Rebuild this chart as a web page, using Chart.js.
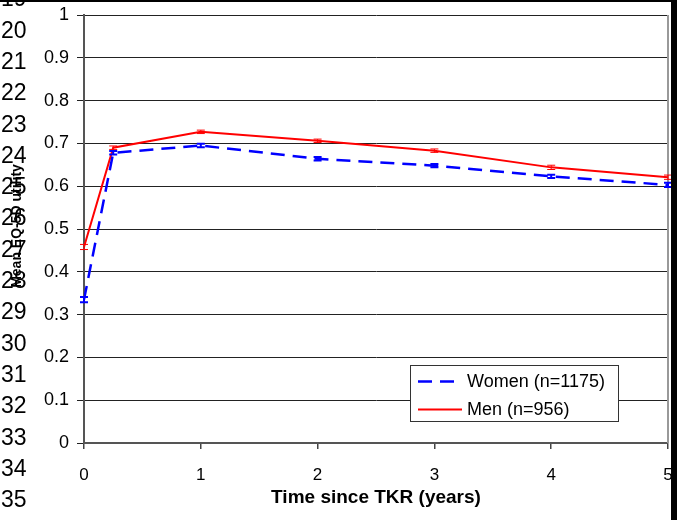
<!DOCTYPE html>
<html>
<head>
<meta charset="utf-8">
<script src="https://cdn.jsdelivr.net/npm/chart.js@4.4.1/dist/chart.umd.min.js"></script>
<style>
  html, body { margin: 0; padding: 0; background: #fff; }
  #wrap { width: 677px; height: 520px; }
</style>
</head>
<body>
<div id="wrap"><canvas id="qolChart" width="677" height="520"></canvas></div>
<script>
// ── DATA ─────────────────────────────────────────
const years      = [0, 0.25, 1, 2, 3, 4, 5];
const womenMean  = [0.335, 0.678, 0.695, 0.664, 0.648, 0.623, 0.603];
const womenErr   = [0.006, 0.004, 0.004, 0.004, 0.004, 0.004, 0.005];
const menMean    = [0.458, 0.690, 0.727, 0.706, 0.683, 0.644, 0.621];
const menErr     = [0.006, 0.004, 0.004, 0.004, 0.004, 0.005, 0.005];
const womenLabel = 'Women (n=1175)';
const menLabel   = 'Men (n=956)';
const yTitle     = 'Mean EQ-5D utility';
const xTitle     = 'Time since TKR (years)';
const lineNums   = [19, 20, 21, 22, 23, 24, 25, 26, 27, 28, 29, 30, 31, 32, 33, 34, 35, 36];

const FONT = "'Liberation Sans', Arial, sans-serif";

function toPoints(xs, ys) {
  return xs.map((x, i) => ({ x: x, y: ys[i] }));
}

// ── ERROR BARS ───────────────────────────────────
const errorBars = {
  id: 'errorBars',
  afterDatasetsDraw(chart) {
    const { ctx, scales: { x, y } } = chart;
    chart.data.datasets.forEach(ds => {
      ctx.save();
      ctx.strokeStyle = ds.borderColor;
      ctx.lineWidth = ds.errWidth;
      ds.data.forEach((p, i) => {
        const px = x.getPixelForValue(p.x);
        const yLo = y.getPixelForValue(p.y - ds.err[i]);
        const yHi = y.getPixelForValue(p.y + ds.err[i]);
        ctx.beginPath();
        ctx.moveTo(px, yLo); ctx.lineTo(px, yHi);
        ctx.moveTo(px - 4, yLo); ctx.lineTo(px + 4, yLo);
        ctx.moveTo(px - 4, yHi); ctx.lineTo(px + 4, yHi);
        ctx.stroke();
      });
      ctx.restore();
    });
  }
};

// ── LEGEND BOX, PAGE DECOR ───────────────────────
const decor = {
  id: 'decor',
  afterDraw(chart) {
    const ctx = chart.ctx;
    ctx.save();

    // legend inside plot
    const lx = 410.5, ly = 365.5, lw = 208, lh = 56;
    ctx.fillStyle = '#fff';
    ctx.fillRect(lx, ly, lw, lh);
    ctx.strokeStyle = '#333';
    ctx.lineWidth = 1;
    ctx.strokeRect(lx, ly, lw, lh);

    chart.data.datasets.forEach((ds, i) => {
      const yy = ly + 16 + i * 28;
      ctx.beginPath();
      ctx.strokeStyle = ds.borderColor;
      ctx.lineWidth = ds.borderWidth;
      ctx.setLineDash(ds.borderDash || []);
      ctx.moveTo(418, yy); ctx.lineTo(462, yy);
      ctx.stroke();
      ctx.setLineDash([]);
      ctx.fillStyle = '#000';
      ctx.font = '18px ' + FONT;
      ctx.textBaseline = 'middle';
      ctx.textAlign = 'left';
      ctx.fillText(ds.label, 467, yy + 1);
    });

    // manuscript line numbers
    ctx.fillStyle = '#000';
    ctx.font = '23px ' + FONT;
    ctx.textAlign = 'left';
    ctx.textBaseline = 'middle';
    lineNums.forEach((n, i) => ctx.fillText(String(n), 1, 0 + i * 31.3));

    // rotated y title
    ctx.save();
    ctx.translate(17, 226);
    ctx.rotate(-Math.PI / 2);
    ctx.font = 'bold 14px ' + FONT;
    ctx.textAlign = 'center';
    ctx.textBaseline = 'middle';
    ctx.fillText(yTitle, 0, 0);
    ctx.restore();

    // page frame
    ctx.fillStyle = '#000';
    ctx.fillRect(0, 0, 677, 2);
    ctx.fillRect(671, 0, 6, 520);
    ctx.restore();
  }
};

new Chart(document.getElementById('qolChart'), {
  type: 'line',
  data: {
    datasets: [
      {
        label: womenLabel,
        data: toPoints(years, womenMean),
        err: womenErr,
        errWidth: 2,
        borderColor: '#0000FF',
        borderWidth: 2.5,
        borderDash: [14, 8],
        pointRadius: 0,
        tension: 0,
      },
      {
        label: menLabel,
        data: toPoints(years, menMean),
        err: menErr,
        errWidth: 1,
        borderColor: '#FF0000',
        borderWidth: 2,
        pointRadius: 0,
        tension: 0,
      },
    ],
  },
  options: {
    responsive: false,
    animation: false,
    layout: { padding: { top: 15, right: 9, left: 0, bottom: 0 } },
    plugins: {
      legend: { display: false },
      tooltip: { enabled: false },
    },
    scales: {
      x: {
        type: 'linear',
        min: 0, max: 5,
        afterFit: s => { s.height = 77; s.paddingLeft = 0; s.paddingRight = 0; },
        ticks: { stepSize: 1, color: '#000', padding: 16, font: { family: FONT, size: 17 } },
        grid: { drawOnChartArea: false, color: '#444', tickLength: 6, lineWidth: 1.5 },
        border: { color: '#555', width: 2 },
        title: {
          display: true, text: xTitle, color: '#000',
          font: { family: FONT, size: 19, weight: 'bold' },
          padding: { top: 0, bottom: 11 },
        },
      },
      y: {
        min: 0, max: 1,
        afterFit: s => { s.width = 84; s.paddingTop = 0; s.paddingBottom = 0; },
        ticks: { stepSize: 0.1, color: '#000', padding: 8, font: { family: FONT, size: 18 },
                 callback: v => Math.round(v * 10) / 10 },
        grid: { color: '#222', tickLength: 7, lineWidth: 1 },
        border: { color: '#555', width: 2 },
      },
    },
  },
  plugins: [errorBars, decor, {
    id: 'rightEdge',
    beforeDatasetsDraw(chart) {
      const { ctx, chartArea: a } = chart;
      ctx.save();
      ctx.strokeStyle = '#999';
      ctx.lineWidth = 2;
      ctx.beginPath();
      ctx.moveTo(a.right, a.top); ctx.lineTo(a.right, a.bottom);
      ctx.stroke();
      ctx.restore();
    }
  }],
});
</script>
</body>
</html>
